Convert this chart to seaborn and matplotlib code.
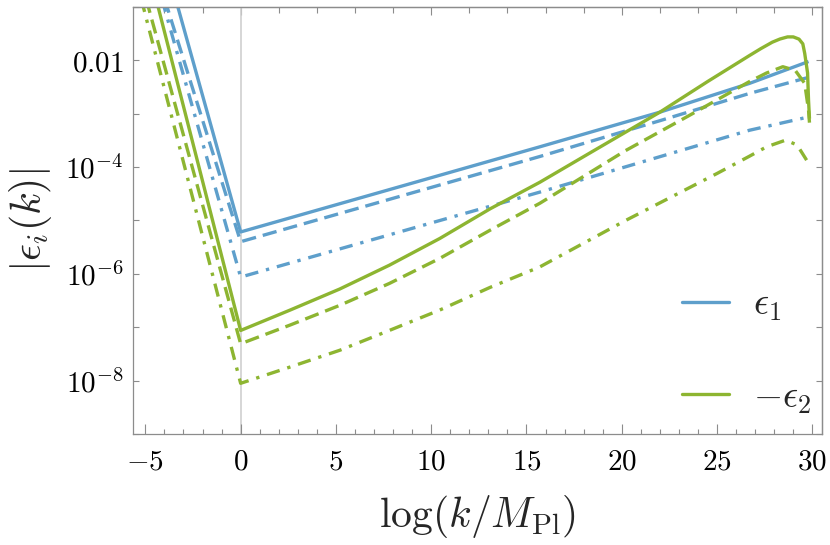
import numpy as np
import pandas as pd
import matplotlib
matplotlib.use("Agg")
import matplotlib.pyplot as plt
import seaborn as sns
from matplotlib.lines import Line2D
from matplotlib.ticker import FixedLocator, NullFormatter, NullLocator

# ---------------- data ----------------
eps1_solid_x = [-4.0, 0.0, 15.7, 22.0, 26.7, 29.8]
eps1_solid_y = [0.80, 6.1e-6, 2.4e-4, 1.07e-3, 3.7e-3, 9.5e-3]

eps1_dashed_x = [-4.5, 0.0, 15.7, 22.0, 26.7, 29.8]
eps1_dashed_y = [0.54, 4.0e-6, 1.58e-4, 7.4e-4, 2.4e-3, 4.8e-3]

eps1_dashdot_x = [-4.5, 0.0, 15.7, 26.7, 29.8]
eps1_dashdot_y = [0.41, 8.7e-7, 3.4e-5, 4.9e-4, 8.7e-4]

eps2_solid_x = [-5.0, 0.0, 2.6, 5.2, 7.8, 10.45, 13.1, 15.7, 18.5, 22.0, 24.5,
                26.7, 27.3, 27.9, 28.3, 28.7, 29.0, 29.3, 29.5, 29.6, 29.75,
                29.8, 29.85]
eps2_solid_y = [0.87, 8.7e-8, 2.1e-7, 5.2e-7, 1.45e-6, 4.6e-6, 1.66e-5, 5.2e-5,
                2.0e-4, 1.07e-3, 4.0e-3, 1.23e-2, 1.66e-2, 2.19e-2, 2.51e-2,
                2.75e-2, 2.75e-2, 2.5e-2, 2.04e-2, 1.35e-2, 5.8e-3, 1.8e-3, 8.1e-4]

eps2_dashed_x = [-5.5, 0.0, 2.6, 5.2, 7.8, 10.45, 13.1, 15.7, 20.2, 23.5,
                 26.7, 27.6, 28.45, 29.1, 29.6, 29.8, 29.85]
eps2_dashed_y = [0.72, 4.9e-8, 1.1e-7, 2.57e-7, 6.6e-7, 1.95e-6, 6.6e-6,
                 2.1e-5, 2.04e-4, 9.1e-4, 4.0e-3, 5.8e-3, 7.6e-3, 6.5e-3,
                 3.7e-3, 1.17e-3, 6.8e-4]

eps2_dashdot_x = [-5.5, 0.0, 2.6, 5.2, 7.8, 10.45, 13.1, 15.7, 20.2, 25.0,
                  26.7, 27.6, 28.6, 29.2, 29.7]
eps2_dashdot_y = [0.35, 8.9e-9, 1.8e-8, 3.7e-8, 8.7e-8, 2.1e-7, 5.6e-7,
                  1.35e-6, 1.0e-5, 7.6e-5, 1.6e-4, 2.4e-4, 3.2e-4, 2.6e-4,
                  1.35e-4]

quantities = [r"$\epsilon_1$", r"$-\epsilon_2$"]
variants = ["solid", "dashed", "dashdot"]

y_major_ticks = [1e-2, 1e-4, 1e-6, 1e-8]
y_major_labels = [r"$0.01$", r"$10^{-4}$", r"$10^{-6}$", r"$10^{-8}$"]
y_minor_ticks = [1e-1, 1e-3, 1e-5, 1e-7, 1e-9]
x_major_ticks = [-5, 0, 5, 10, 15, 20, 25, 30]
x_major_labels = [r"$-5$", r"$0$", r"$5$", r"$10$", r"$15$", r"$20$", r"$25$", r"$30$"]

# ---------------- build table ----------------
series = [
    (quantities[0], "solid", eps1_solid_x, eps1_solid_y),
    (quantities[0], "dashed", eps1_dashed_x, eps1_dashed_y),
    (quantities[0], "dashdot", eps1_dashdot_x, eps1_dashdot_y),
    (quantities[1], "solid", eps2_solid_x, eps2_solid_y),
    (quantities[1], "dashed", eps2_dashed_x, eps2_dashed_y),
    (quantities[1], "dashdot", eps2_dashdot_x, eps2_dashdot_y),
]
rows = []
for q, v, xs, ys in series:
    for xv, yv in zip(xs, ys):
        rows.append({"x": xv, "y": yv, "quantity": q, "variant": v, "curve": q + v})
df = pd.DataFrame(rows)

# ---------------- style ----------------
sns.set_theme(style="white")
plt.rcParams["mathtext.fontset"] = "cm"
plt.rcParams["font.family"] = ["DejaVu Serif"]

BLUE = "#5e9fcb"
GREEN = "#8db531"
FRAME = "#8c8c8c"
LW = 2.4

fig = plt.figure(figsize=(8.3, 5.45), dpi=100)
ax = fig.add_axes([0.1602, 0.2037, 0.8300, 0.7835])

sns.lineplot(
    data=df, x="x", y="y", hue="quantity", style="variant", units="curve",
    estimator=None, sort=True,
    hue_order=quantities, style_order=variants,
    palette={quantities[0]: BLUE, quantities[1]: GREEN},
    dashes={"solid": "", "dashed": (4.3, 2.1), "dashdot": (4.0, 2.4, 1.0, 2.4)},
    linewidth=LW, legend=False, ax=ax,
)
for ln in ax.lines:
    ln.set_solid_capstyle("butt")
    ln.set_dash_capstyle("butt")
    ln.set_solid_joinstyle("round")

ax.axvline(0, color="#cfcfcf", lw=1.2, zorder=0.5)

ax.set_yscale("log")
ax.set_xlim(-5.65, 30.5)
ax.set_ylim(1e-9, 1e-1)

ax.set_yticks(y_major_ticks)
ax.set_yticklabels(y_major_labels)
ax.yaxis.set_minor_locator(FixedLocator(y_minor_ticks))
ax.yaxis.set_minor_formatter(NullFormatter())
ax.set_xticks(x_major_ticks)
ax.set_xticklabels(x_major_labels)
ax.xaxis.set_minor_locator(FixedLocator(np.arange(-5, 31, 1)))

ax.tick_params(axis="both", which="both", direction="in", colors=FRAME,
               labelcolor="black", labelsize=21, width=0.8,
               bottom=True, left=True, top=False, right=False)
ax.tick_params(axis="x", which="major", length=7, pad=10)
ax.tick_params(axis="x", which="minor", length=3.5)
ax.tick_params(axis="y", which="major", length=4.5, pad=7)
ax.tick_params(axis="y", which="minor", length=4.0)

for s in ax.spines.values():
    s.set_color(FRAME)
    s.set_linewidth(0.9)

# top and right frame ticks
top = ax.secondary_xaxis("top")
top.set_xticks([0, 10, 20, 30])
top.xaxis.set_minor_locator(FixedLocator(np.arange(-4, 31, 2)))
top.tick_params(which="both", direction="in", colors=FRAME, labeltop=False,
                width=0.8, top=True)
top.tick_params(which="major", length=6)
top.tick_params(which="minor", length=4)
top.spines["top"].set_color(FRAME)
top.spines["top"].set_linewidth(0.9)

right = ax.secondary_yaxis("right")
right.set_yticks([1e-1, 1e-2, 1e-3, 1e-4, 1e-5, 1e-6, 1e-7, 1e-8, 1e-9])
right.yaxis.set_minor_locator(NullLocator())
right.tick_params(which="both", direction="in", colors=FRAME, labelright=False,
                  length=4, width=0.8, right=True)
right.spines["right"].set_color(FRAME)
right.spines["right"].set_linewidth(0.9)

ax.set_xlabel(r"$\log(k/M_{\rm Pl})$", fontsize=30, labelpad=12)
ax.set_ylabel(r"$|\epsilon_i(k)|$", fontsize=30, labelpad=8)

handles = [Line2D([], [], color=BLUE, lw=LW), Line2D([], [], color=GREEN, lw=LW)]
ax.legend(handles, quantities, loc="upper left", bbox_to_anchor=(0.797, 0.345),
          frameon=False, fontsize=27, handlelength=1.25, handletextpad=0.65,
          labelspacing=1.5, borderpad=0.0, borderaxespad=0.0)

fig.savefig("out.png", dpi=100)
